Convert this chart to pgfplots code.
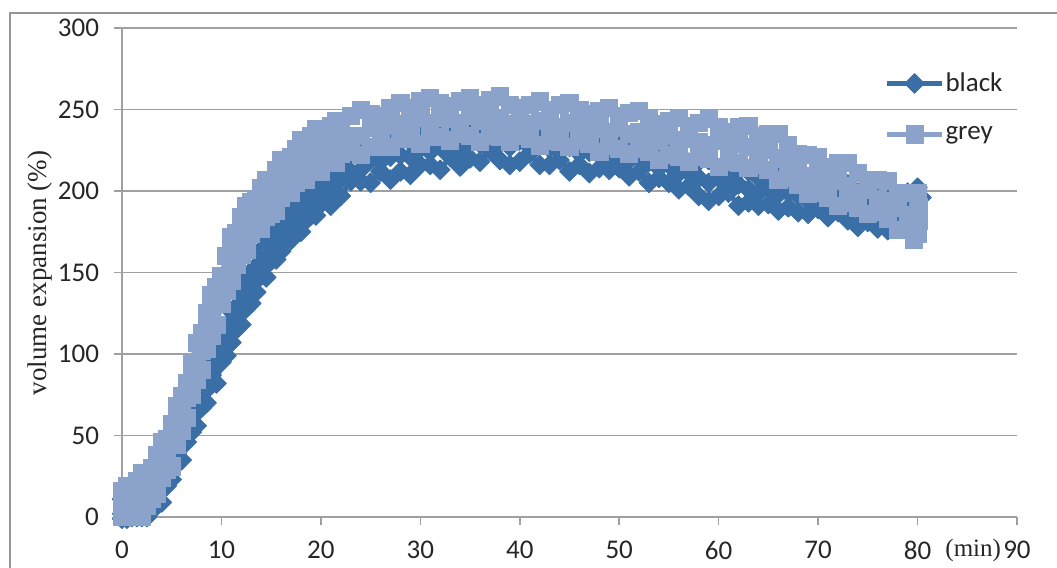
\documentclass[border=0pt]{standalone}
\usepackage{fontspec}
\usepackage{pgfplots}
\pgfplotsset{compat=1.18}
\newfontfamily\calibri{Carlito}
\newfontfamily\timesf{Liberation Serif}
\definecolor{blk}{HTML}{3A6EA6}
\definecolor{gry}{HTML}{8BA3CB}
\definecolor{gridc}{HTML}{A0A0A0}
\definecolor{frame}{HTML}{969696}
\pgfplotsset{
  bstyle/.style={color=blk, line width=2.5pt, line join=round, mark=square*, mark size=3.5pt,
    mark options={solid, rotate=45, fill=blk, draw=blk, line width=0.4pt}},
  gstyle/.style={color=gry, line width=2.5pt, line join=round, mark=square*, mark size=4.3pt,
    mark options={solid, fill=gry, draw=gry, line width=0.4pt}},
}
\begin{document}
\begin{tikzpicture}
\begin{axis}[
  at={(0,0)}, anchor=south west,
  scale only axis, width=447.5pt, height=244.5pt,
  xmin=0, xmax=90, ymin=0, ymax=300,
  xtick={0,10,...,90}, ytick={0,50,...,300},
  axis x line*=bottom, axis y line*=left,
  axis line style={draw=gridc, line width=0.75pt},
  tick style={draw=gridc, line width=0.75pt},
  major tick length=4pt, tick align=outside,
  ymajorgrids, grid style={draw=gridc, line width=0.75pt},
  clip=false,
  /pgf/number format/assume math mode=true,
  ticklabel style={font=\calibri\fontsize{13.5}{15}\selectfont, text=black!85},
  xticklabel style={yshift=-4.5pt},
  yticklabel style={xshift=-4pt},
  legend style={draw=none, fill=none, inner sep=0pt, outer sep=0pt,
    at={(axis description cs:0.852,0.917)}, anchor=north west,
    row sep=12pt, column sep=-1.5pt,
    font=\calibri\fontsize{13.5}{15}\selectfont, text=black!85},
  legend cell align=left,
  legend image code/.code={
    \draw[mark repeat=2, mark phase=2, #1] plot coordinates {(0pt,0pt) (13.75pt,0pt) (27.5pt,0pt)};
  },
]
% black series: upper, middle and lower readings of the band
\addplot[bstyle] coordinates {
(0,11)(0.5,14)(1,11)(1.5,15)(2,19)(2.5,17)(3,18)(3.5,25)(4,32)(4.5,34)(5,44)(5.5,53)(6,56)(6.5,63)(7,72)(7.5,79)(8,82)(8.5,91)(9,100)(9.5,103)(10,108)(10.5,117)(11,126)(11.5,129)(12,139)(12.5,147)(13,150)(13.5,154)(14,164)(14.5,171)(15,172)(15.5,179)(16,184)(16.5,189)(17,190)(17.5,193)(18,196)(18.5,197)(19,203)(19.5,208)(20,207)(20.5,207)(21,214)(21.5,212)(22,218)(23,222)(24,227)(25,224)(26,225)(27,229)(28,233)(29,230)(30,234)(31,237)(32,234)(33,233)(34,239)(35,240)(36,237)(37,240)(38,241)(39,237)(40,235)(41,237)(42,238)(43,233)(44,235)(45,236)(46,232)(47,229)(48,231)(49,233)(50,228)(51,230)(52,231)(53,226)(54,222)(55,223)(56,223)(57,217)(58,218)(59,219)(60,214)(61,210)(62,212)(63,212)(64,208)(65,210)(66,211)(67,206)(68,203)(69,205)(70,206)(71,202)(72,204)(73,204)(74,199)(75,195)(76,197)(77,199)(78,195)(79,199)(80,202)(80.4,196)
};
\addlegendentry{black}
\addplot[bstyle, forget plot] coordinates {
(0,2)(0.5,1)(1,6)(1.5,4)(2,8)(2.5,9)(3,10)(3.5,18)(4,20)(4.5,28)(5,34)(5.5,39)(6,50)(6.5,53)(7,62)(7.5,68)(8,73)(8.5,83)(9,87)(9.5,96)(10,102)(10.5,106)(11,117)(11.5,121)(12,130)(12.5,135)(13,140)(13.5,150)(14,154)(14.5,161)(15,165)(15.5,167)(16,176)(16.5,176)(17,182)(17.5,184)(18,185)(18.5,192)(19,192)(19.5,197)(20,199)(20.5,199)(21,205)(21.5,204)(22,209)(23,212)(24,213)(25,219)(26,218)(27,221)(28,222)(29,221)(30,226)(31,224)(32,227)(33,227)(34,226)(35,231)(36,229)(37,231)(38,229)(39,227)(40,231)(41,227)(42,228)(43,226)(44,224)(45,227)(46,223)(47,224)(48,222)(49,220)(50,223)(51,219)(52,220)(53,218)(54,214)(55,216)(56,211)(57,211)(58,208)(59,205)(60,208)(61,203)(62,204)(63,201)(64,199)(65,202)(66,198)(67,199)(68,197)(69,194)(70,197)(71,194)(72,195)(73,192)(74,189)(75,191)(76,187)(77,189)(78,188)(79,187)(80,192)
};
\addplot[bstyle, forget plot] coordinates {
(0,-1)(0.5,-1)(1,0)(1.5,0)(2,0)(2.5,0)(3,4)(3.5,7)(4,9)(4.5,19)(5,23)(5.5,32)(6,35)(6.5,46)(7,52)(7.5,56)(8,67)(8.5,70)(9,81)(9.5,82)(10,95)(10.5,99)(11,107)(11.5,115)(12,118)(12.5,128)(13,131)(13.5,138)(14,148)(14.5,147)(15,157)(15.5,158)(16,163)(16.5,170)(17,170)(17.5,180)(18,175)(18.5,182)(19,185)(19.5,185)(20,192)(20.5,196)(21,191)(21.5,195)(22,197)(23,206)(24,206)(25,205)(26,212)(27,207)(28,212)(29,210)(30,216)(31,216)(32,213)(33,221)(34,215)(35,220)(36,218)(37,225)(38,219)(39,216)(40,218)(41,223)(42,216)(43,216)(44,219)(45,212)(46,216)(47,211)(48,214)(49,213)(50,214)(51,209)(52,212)(53,205)(54,208)(55,205)(56,201)(57,203)(58,197)(59,194)(60,197)(61,199)(62,191)(63,193)(64,191)(65,192)(66,188)(67,190)(68,187)(69,186)(70,189)(71,184)(72,187)(73,182)(74,178)(75,181)(76,177)(77,176)(78,181)(79,182)(80,177)
};
% grey series: upper, middle and lower readings of the band
\addplot[gstyle] coordinates {
(0,16)(0.5,19)(1,17)(1.5,22)(2,27)(2.5,27)(3,30)(3.5,38)(4,46)(4.5,48)(5,57)(5.5,68)(6,74)(6.5,82)(7,95)(7.5,107)(8,113)(8.5,125)(9,136)(9.5,141)(10,148)(10.5,160)(11,172)(11.5,174)(12,184)(12.5,191)(13,193)(13.5,195)(14,202)(14.5,207)(15,206)(15.5,213)(16,219)(16.5,219)(17,221)(17.5,226)(18,231)(18.5,229)(19,234)(19.5,238)(20,236)(20.5,235)(21,240)(21.5,243)(22,241)(23,246)(24,250)(25,247)(26,246)(27,251)(28,254)(29,251)(30,255)(31,257)(32,254)(33,252)(34,255)(35,257)(36,253)(37,256)(38,258)(39,253)(40,251)(41,253)(42,255)(43,250)(44,253)(45,254)(46,250)(47,247)(48,249)(49,251)(50,246)(51,248)(52,249)(53,244)(54,241)(55,243)(56,245)(57,240)(58,242)(59,244)(60,239)(61,236)(62,239)(63,240)(64,234)(65,235)(66,235)(67,228)(68,223)(69,222)(70,221)(71,215)(72,217)(73,217)(74,211)(75,207)(76,207)(77,206)(78,199)(79,199)(80,199)
};
\addlegendentry{grey}
\addplot[gstyle, forget plot] coordinates {
(0,5)(0.5,4)(1,10)(1.5,9)(2,14)(2.5,17)(3,20)(3.5,29)(4,32)(4.5,40)(5,45)(5.5,52)(6,66)(6.5,73)(7,85)(7.5,94)(8,102)(8.5,115)(9,121)(9.5,132)(10,140)(10.5,147)(11,161)(11.5,164)(12,173)(12.5,177)(13,181)(13.5,189)(14,190)(14.5,195)(15,197)(15.5,199)(16,207)(16.5,208)(17,214)(17.5,215)(18,216)(18.5,222)(19,221)(19.5,225)(20,226)(20.5,225)(21,231)(21.5,229)(22,233)(23,234)(24,234)(25,239)(26,237)(27,241)(28,241)(29,240)(30,245)(31,242)(32,245)(33,244)(34,242)(35,246)(36,243)(37,245)(38,244)(39,241)(40,245)(41,241)(42,243)(43,241)(44,239)(45,242)(46,239)(47,240)(48,238)(49,236)(50,239)(51,235)(52,236)(53,234)(54,231)(55,234)(56,231)(57,232)(58,230)(59,228)(60,231)(61,227)(62,229)(63,227)(64,223)(65,225)(66,220)(67,219)(68,215)(69,209)(70,210)(71,205)(72,206)(73,203)(74,199)(75,201)(76,195)(77,194)(78,190)(79,185)(80,187)(80.1,190)
};
\addplot[gstyle, forget plot] coordinates {
(0,0)(0.5,0)(1,0)(1.5,0)(2,0)(2.5,7)(3,11)(3.5,14)(4,24)(4.5,29)(5,31)(5.5,44)(6,53)(6.5,61)(7,75)(7.5,84)(8,90)(8.5,103)(9,111)(9.5,118)(10,131)(10.5,139)(11,145)(11.5,155)(12,161)(12.5,164)(13,174)(13.5,177)(14,177)(14.5,184)(15,186)(15.5,188)(16,196)(16.5,199)(17,199)(17.5,205)(18,207)(18.5,207)(19,213)(19.5,214)(20,212)(20.5,217)(21,218)(21.5,217)(22,223)(23,224)(24,222)(25,227)(26,227)(27,227)(28,232)(29,232)(30,229)(31,233)(32,233)(33,231)(34,235)(35,234)(36,230)(37,234)(38,233)(39,230)(40,234)(41,232)(42,228)(43,231)(44,230)(45,227)(46,231)(47,229)(48,224)(49,228)(50,226)(51,223)(52,226)(53,224)(54,219)(55,222)(56,221)(57,218)(58,221)(59,220)(60,215)(61,218)(62,217)(63,214)(64,216)(65,213)(66,207)(67,208)(68,204)(69,198)(70,199)(71,196)(72,191)(73,193)(74,190)(75,186)(76,187)(77,183)(78,176)(79,177)(79.6,170)(80,174)(80.1,182)
};
\node[anchor=base, font=\timesf\fontsize{12.5}{15}\selectfont, text=black!85]
  at ([yshift=-20pt]axis cs:85.6,0) {(min)};
\end{axis}
\node[rotate=90, anchor=center, font=\timesf\fontsize{13.5}{16}\selectfont, text=black!85]
  at (-41pt,122pt) {volume expansion (\%)};
\draw[frame, line width=1pt] (-56pt,-30pt) -- (-56pt,252pt) -- (480pt,252pt);
\pgfresetboundingbox
\useasboundingbox (-61pt,-25.5pt) rectangle (467.5pt,258.5pt);
\end{tikzpicture}
\end{document}
